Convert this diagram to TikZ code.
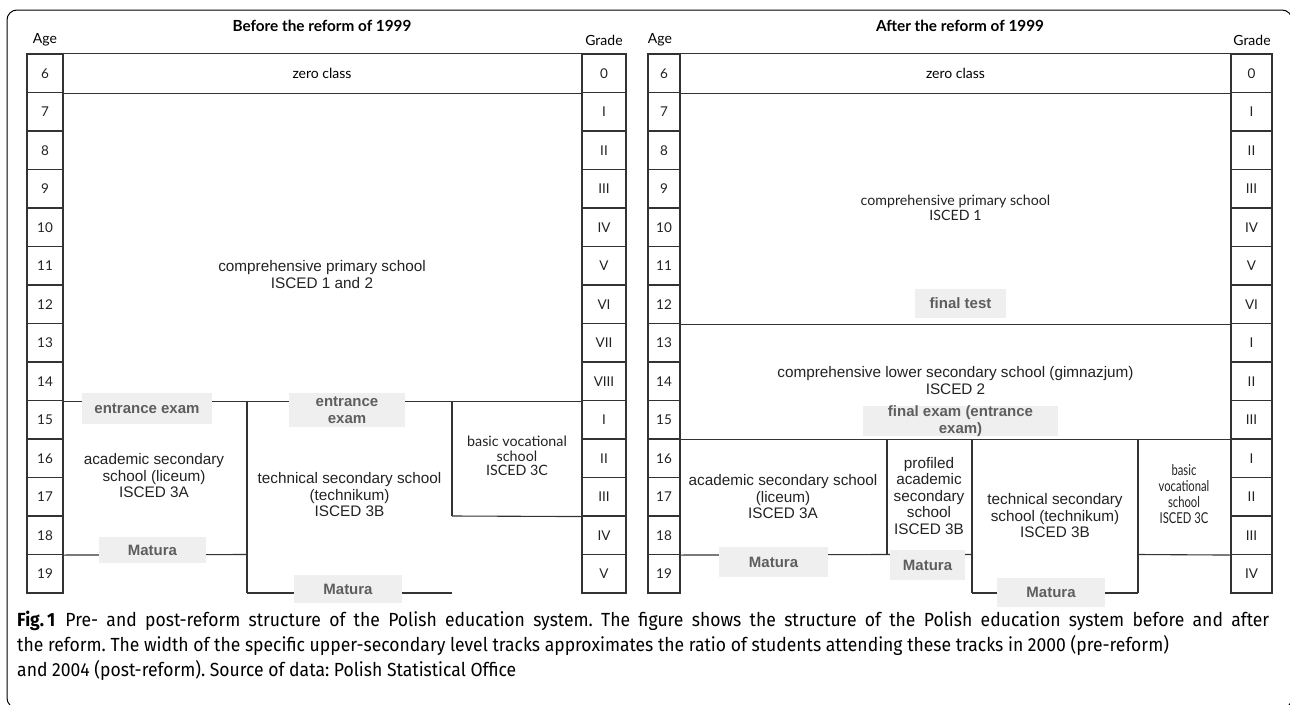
\documentclass[tikz,border=0pt]{standalone}
\usepackage{fontspec}
\setmainfont{Liberation Sans}
\newfontfamily\lato{Lato}
\newfontfamily\latonarrow[FakeStretch=0.75]{Lato}
\newfontfamily\capfont[FakeStretch=0.924]{Fira Sans}
\definecolor{linec}{HTML}{333333}
\definecolor{txtc}{HTML}{222222}
\definecolor{lblfill}{HTML}{EFEFEF}
\definecolor{lbltxt}{HTML}{5E5E5E}
\tikzset{
 grid/.style={draw=linec, line width=1.1pt},
 cellbox/.style={draw=linec, line width=1.1pt, minimum height=38.5pt, inner sep=0pt, text=txtc, font=\lato\fontsize{13.5}{15}\selectfont},
 school/.style={align=center, text=txtc, inner sep=0pt, font=\fontsize{15.3}{16.5}\selectfont},
 lbl/.style={fill=lblfill, text=lbltxt, inner sep=0pt, align=center, font=\bfseries\fontsize{15}{16.5}\selectfont},
 head/.style={text=black, inner sep=0pt, font=\lato\fontsize{14}{15}\selectfont},
 ttl/.style={text=black, inner sep=0pt, font=\lato\bfseries\fontsize{15.3}{17}\selectfont},
 capn/.style={text=black, inner sep=0pt, anchor=base west, font=\capfont\fontsize{19}{22}\selectfont\frenchspacing},
}
\begin{document}
\begin{tikzpicture}[x=1pt,y=-1pt]
\useasboundingbox (0,0) rectangle (1290,704);
\draw[line width=1pt, rounded corners=10pt] (7,10) rectangle (1292,708);

% ---------- left panel ----------
\node[ttl] (ltitle) at (322,26) {Before the reform of 1999};
\node[head] (lage) at (45,40) {Age};
\node[head] (lgrade) at (604,40) {Grade};
\foreach \a [count=\i from 0] in {6,...,19}
  \node[cellbox, minimum width=36pt] (la\i) at (45,{73.25+\i*38.5}) {\a};
\foreach \g [count=\i from 0] in {0,I,II,III,IV,V,VI,VII,VIII,I,II,III,IV,V}
  \node[cellbox, minimum width=44pt] (lg\i) at (604,{73.25+\i*38.5}) {\g};

\draw[grid] (la0.north east) -- (lg0.north west);
\draw[grid] (la0.south east) -- (lg0.south west);
\draw[grid] (la8.south east) -- (lg8.south west);
\coordinate (lv1t) at (247,400.5); \coordinate (lv1b) at (247,593);
\coordinate (lv2t) at (452,400.5); \coordinate (lv2b) at (452,516);
\draw[grid] (lv1t) -- (lv1b);
\draw[grid] (lv2t) -- (lv2b);
\draw[grid] (la12.south east) -- (247,554.5);
\draw[grid] (lv1b) -- (452,593);
\draw[grid] (lv2b) -- (lg11.south west);

\node[lbl, minimum width=130pt, minimum height=31pt] (lee1) at (147,408.5) {entrance exam};
\node[lbl, minimum width=116pt, minimum height=34pt] (lee2) at (347,410) {entrance\\exam};
\node[lbl, minimum width=107pt, minimum height=26pt] (lm1) at (152.5,550) {Matura};
\node[lbl, minimum width=108pt, minimum height=28pt] (lm2) at (348,589) {Matura};

\node[head] (lzero) at (322,73) {zero class};
\node[school] (lprim) at (322,274.5) {comprehensive primary school\\ISCED 1 and 2};
\node[school] (lacad) at (154,476) {academic secondary\\school (liceum)\\ISCED 3A};
\node[school] (ltech) at (349.5,495) {technical secondary school\\(technikum)\\ISCED 3B};
\node[align=center, text=txtc, inner sep=0pt, font=\lato\fontsize{14.3}{14.5}\selectfont] (lbas) at (517,456) {basic vocational\\school\\ISCED 3C};

% ---------- right panel ----------
\node[ttl] (rtitle) at (960,26) {After the reform of 1999};
\node[head] (rage) at (660,40) {Age};
\node[head] (rgrade) at (1252,40) {Grade};
\foreach \a [count=\i from 0] in {6,...,19}
  \node[cellbox, minimum width=32pt] (ra\i) at (664,{73.25+\i*38.5}) {\a};
\foreach \g [count=\i from 0] in {0,I,II,III,IV,V,VI,I,II,III,I,II,III,IV}
  \node[cellbox, minimum width=41pt] (rg\i) at (1251.5,{73.25+\i*38.5}) {\g};

\draw[grid] (ra0.north east) -- (rg0.north west);
\draw[grid] (ra0.south east) -- (rg0.south west);
\draw[grid] (ra6.south east) -- (rg6.south west);
\draw[grid] (ra9.south east) -- (rg9.south west);
\coordinate (rv1t) at (887,439); \coordinate (rv1b) at (887,554.5);
\coordinate (rv2t) at (972,439); \coordinate (rv2b) at (972,593);
\coordinate (rv3t) at (1138,439); \coordinate (rv3b) at (1138,593);
\draw[grid] (rv1t) -- (rv1b);
\draw[grid] (rv2t) -- (rv2b);
\draw[grid] (rv3t) -- (rv3b);
\draw[grid] (ra12.south east) -- (rv1b) -- (972,554.5);
\draw[grid] (rv2b) -- (rv3b);
\draw[grid] (1138,554.5) -- (rg12.south west);

\node[lbl, minimum width=91pt, minimum height=29pt] (rft) at (960.5,303.5) {final test};
\node[lbl, minimum width=195pt, minimum height=28pt] (rfe) at (960.5,421) {final exam (entrance\\exam)};
\node[lbl, minimum width=109pt, minimum height=30pt] (rm1) at (773.5,562) {Matura};
\node[lbl, minimum width=75pt, minimum height=30pt] (rm2) at (927.5,565) {Matura};
\node[lbl, minimum width=108pt, minimum height=29pt] (rm3) at (1051,592.5) {Matura};

\node[head] (rzero) at (955.5,73) {zero class};
\node[align=center, text=txtc, inner sep=0pt, font=\lato\fontsize{14.2}{15}\selectfont] (rprim) at (955.5,207.5) {comprehensive primary school\\ISCED 1};
\node[school] (rgim) at (955.5,380.5) {comprehensive lower secondary school (gimnazjum)\\ISCED 2};
\node[school] (racad) at (783,497) {academic secondary school\\(liceum)\\ISCED 3A};
\node[school] (rprof) at (929,496) {profiled\\academic\\secondary\\school\\ISCED 3B};
\node[school] (rtech) at (1055,516) {technical secondary\\school (technikum)\\ISCED 3B};
\node[align=center, text=txtc, inner sep=0pt, font=\latonarrow\fontsize{15}{16}\selectfont] (rbas) at (1184,494.5) {basic\\vocational\\school\\ISCED 3C};

% ---------- caption ----------
\node[capn] (cap1) at (17,626) {\makebox[1252pt][s]{{\bfseries Fig.\,1}\hspace{10pt}Pre- and post-reform structure of the Polish education system. The figure shows the structure of the Polish education system before and after}};
\node[capn] (cap2) at (17,651) {the reform. The width of the specific upper-secondary level tracks approximates the ratio of students attending these tracks in 2000 (pre-reform)};
\node[capn] (cap3) at (17,676) {and 2004 (post-reform). Source of data: Polish Statistical Office};
\end{tikzpicture}
\end{document}
